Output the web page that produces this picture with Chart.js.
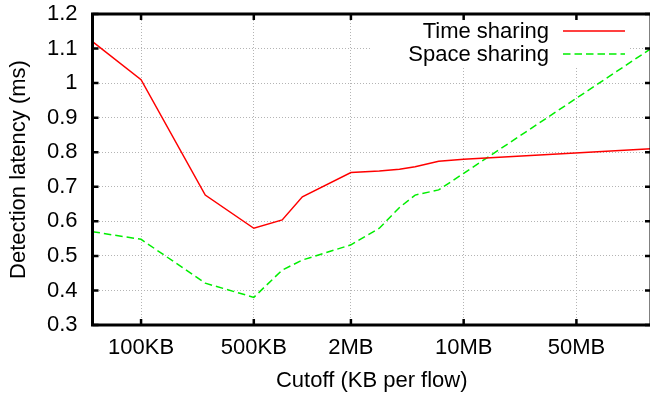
<!DOCTYPE html>
<html>
<head>
<meta charset="utf-8">
<script src="https://cdn.jsdelivr.net/npm/chart.js@4/dist/chart.umd.min.js"></script>
<style>
  html, body { margin: 0; padding: 0; background: #fff; overflow: hidden; }
  #wrap { width: 652px; height: 399px; }
</style>
</head>
<body>
<div id="wrap"><canvas id="c" width="652" height="399"></canvas></div>
<script>
// Cutoff per flow, in KB
const cutoffKB = [50, 100, 250, 500, 750, 1000, 2000, 3000, 4000, 5000, 7000, 10000, 145000];
// Detection latency (ms)
const timeSharing  = [1.12, 1.01, 0.676, 0.58, 0.604, 0.671, 0.741, 0.746, 0.751, 0.758, 0.774, 0.78, 0.81];
const spaceSharing = [0.57, 0.548, 0.421, 0.38, 0.459, 0.488, 0.532, 0.58, 0.64, 0.676, 0.691, 0.739, 1.1];

const xTickValues = [100, 500, 2000, 10000, 50000];
const xTickLabels = ['100KB', '500KB', '2MB', '10MB', '50MB'];
const yTickValues = [0.3, 0.4, 0.5, 0.6, 0.7, 0.8, 0.9, 1.0, 1.1, 1.2];

const seriesNames = ['Time sharing', 'Space sharing'];
const FONT = '"Liberation Sans", Arial, Helvetica, sans-serif';

const toPoints = ys => cutoffKB.map((x, i) => ({ x, y: ys[i] }));

// Frame, inward tick marks and the key box
const framePlugin = {
  id: 'frame',
  beforeDatasetsDraw(chart) {
    const ctx = chart.ctx;
    ctx.save();
    ctx.fillStyle = '#fff';
    ctx.fillRect(370, 18, 258, 48);
    ctx.restore();
  },
  afterDraw(chart) {
    const { ctx, chartArea: a, scales } = chart;
    ctx.save();
    ctx.strokeStyle = '#000';
    ctx.lineWidth = 2.5;
    const tl = 6;
    ctx.beginPath();
    xTickValues.forEach(v => {
      const px = scales.x.getPixelForValue(v);
      ctx.moveTo(px, a.top); ctx.lineTo(px, a.top + tl);
      ctx.moveTo(px, a.bottom); ctx.lineTo(px, a.bottom - tl);
    });
    yTickValues.forEach(v => {
      const py = scales.y.getPixelForValue(v);
      ctx.moveTo(a.left, py); ctx.lineTo(a.left + tl, py);
      ctx.moveTo(a.right, py); ctx.lineTo(a.right - tl, py);
    });
    ctx.stroke();
    ctx.lineWidth = 3;
    ctx.strokeRect(a.left, a.top, a.right - a.left, a.bottom - a.top);

    // key
    ctx.font = '22px ' + FONT;
    ctx.fillStyle = '#000';
    ctx.textAlign = 'right';
    ctx.textBaseline = 'middle';
    const rows = [31, 54];
    chart.data.datasets.forEach((ds, i) => {
      ctx.fillText(seriesNames[i], 549, rows[i] + 1);
      ctx.beginPath();
      ctx.strokeStyle = ds.borderColor;
      ctx.lineWidth = ds.borderWidth;
      ctx.setLineDash(ds.borderDash || []);
      ctx.moveTo(563, rows[i]);
      ctx.lineTo(625, rows[i]);
      ctx.stroke();
    });
    ctx.restore();
  }
};

new Chart(document.getElementById('c'), {
  type: 'line',
  data: {
    datasets: [
      {
        label: seriesNames[0],
        data: toPoints(timeSharing),
        borderColor: '#ff0000',
        borderWidth: 1.5,
        pointRadius: 0,
        tension: 0,
        fill: false
      },
      {
        label: seriesNames[1],
        data: toPoints(spaceSharing),
        borderColor: '#00ee00',
        borderWidth: 1.5,
        borderDash: [7.5, 4],
        pointRadius: 0,
        tension: 0,
        fill: false
      }
    ]
  },
  options: {
    responsive: false,
    animation: false,
    layout: { padding: { top: 14, right: 1, bottom: 0, left: 0 } },
    plugins: { legend: { display: false }, tooltip: { enabled: false } },
    scales: {
      x: {
        type: 'logarithmic',
        min: 50,
        max: 145000,
        afterBuildTicks: s => { s.ticks = xTickValues.map(v => ({ value: v })); },
        afterFit: s => { s.height = 74; s.paddingLeft = 0; s.paddingRight = 0; },
        ticks: {
          autoSkip: false,
          maxRotation: 0,
          padding: 10,
          color: '#000',
          font: { family: FONT, size: 22 },
          callback: (v, i) => xTickLabels[i]
        },
        grid: { color: '#b4b4b4', lineWidth: 1, drawTicks: false },
        border: { display: false, dash: [1, 2] },
        title: {
          display: true,
          text: 'Cutoff (KB per flow)',
          color: '#000',
          font: { family: FONT, size: 22 },
          padding: { top: 0, bottom: 5 }
        }
      },
      y: {
        type: 'linear',
        min: 0.3,
        max: 1.2,
        afterBuildTicks: s => { s.ticks = yTickValues.map(v => ({ value: v })); },
        afterFit: s => { s.width = 92.5; s.paddingTop = 0; s.paddingBottom = 0; },
        ticks: {
          padding: 15,
          color: '#000',
          font: { family: FONT, size: 22 },
          callback: v => String(+v.toFixed(1))
        },
        grid: { color: '#b4b4b4', lineWidth: 1, drawTicks: false },
        border: { display: false, dash: [1, 2] },
        title: {
          display: true,
          text: 'Detection latency (ms)',
          color: '#000',
          font: { family: FONT, size: 22 },
          padding: { top: 6, bottom: 0 }
        }
      }
    }
  },
  plugins: [framePlugin]
});
</script>
</body>
</html>
